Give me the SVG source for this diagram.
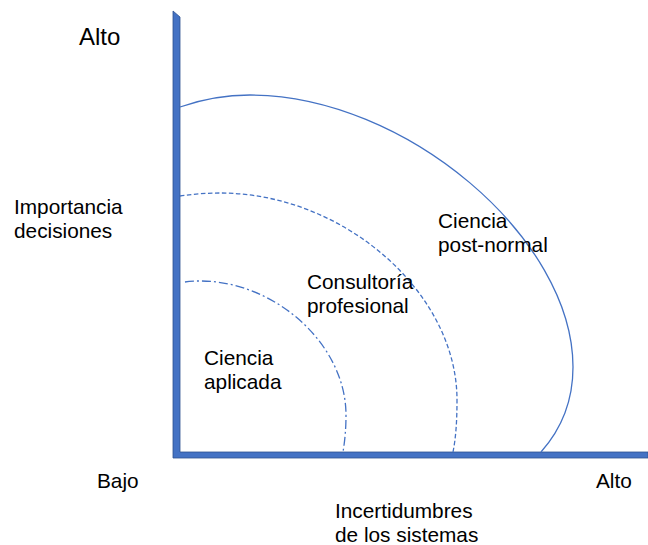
<svg xmlns="http://www.w3.org/2000/svg" width="648" height="545" viewBox="0 0 648 545">
<style>
.t{font-family:"Liberation Sans",Arial,sans-serif;font-size:20.8px;fill:#000}
.arc{fill:none;stroke:#4472C4;stroke-width:1.3}
.axis{fill:#4472C4;stroke:#2F528F;stroke-width:0.8}
</style>
<rect width="648" height="545" fill="#fff"/>
<g id="axes">
<polygon class="axis" points="173,11 180,17 180,452 648,452 648,458 173,458"/>
</g>
<g id="connectors">
<path id="arc-postnormal" class="arc" d="M180,107 C200,100 225,95 250,95 C405,95 573,238 573,367 C573,395 565,425 541,452"/>
<path id="arc-consultoria" class="arc" stroke-dasharray="4.5,2.5" d="M180,196 C193,194 207,193 220,193 C343,193 457,292 457,400 C457,420 456,437 453,452"/>
<path id="arc-aplicada" class="arc" stroke-dasharray="9,3,2,3" d="M185,282 C190,281 195,281 200,281 C276,281 346,345 346,415 C346,428 345,440 343,452"/>
</g>
<g id="label-alto-y"><text class="t" x="79" y="45" style="font-size:24px">Alto</text></g>
<g id="label-importancia"><text class="t" x="14" y="214">Importancia</text><text class="t" x="14" y="238">decisiones</text></g>
<g id="label-bajo"><text class="t" x="97" y="488">Bajo</text></g>
<g id="label-alto-x"><text class="t" x="596" y="488">Alto</text></g>
<g id="label-incertidumbres"><text class="t" x="335" y="518">Incertidumbres</text><text class="t" x="335" y="542">de los sistemas</text></g>
<g id="node-postnormal"><text class="t" x="438" y="228">Ciencia</text><text class="t" x="438" y="252">post-normal</text></g>
<g id="node-consultoria"><text class="t" x="307" y="289">Consultoría</text><text class="t" x="307" y="313">profesional</text></g>
<g id="node-aplicada"><text class="t" x="204" y="365">Ciencia</text><text class="t" x="204" y="389">aplicada</text></g>
</svg>
